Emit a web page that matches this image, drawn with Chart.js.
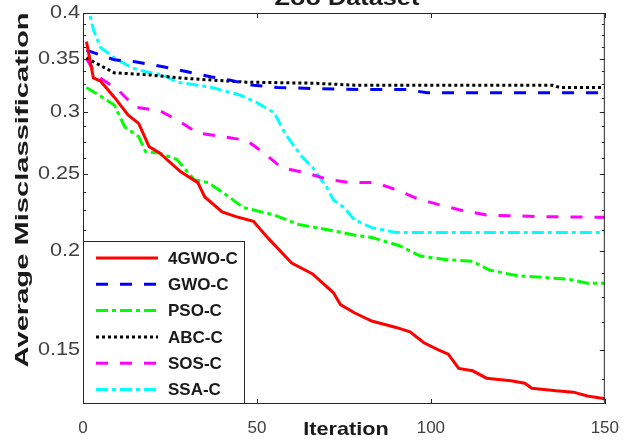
<!DOCTYPE html>
<html>
<head>
<meta charset="utf-8">
<script src="https://cdn.jsdelivr.net/npm/chart.js@4.4.0/dist/chart.umd.min.js"></script>
<style>
  html, body { margin: 0; padding: 0; background: #fff; }
  canvas { display: block; }
</style>
</head>
<body>
<canvas id="chart" width="633" height="441"></canvas>
<script>
// values (iteration, average misclassification)
const seriesNames = ['4GWO-C', 'GWO-C', 'PSO-C', 'ABC-C', 'SOS-C', 'SSA-C'];

const gwo4Iters = [1, 3, 5, 9, 13, 16, 19, 22, 28, 33, 35, 40, 44, 49, 53, 60, 66, 72, 74, 78, 83, 90, 94, 98, 102, 105, 108, 112, 116, 123, 127, 129, 136, 141, 145, 150];
const gwo4Vals  = [0.368, 0.331, 0.328, 0.313, 0.297, 0.290, 0.271, 0.266, 0.252, 0.244, 0.234, 0.224, 0.221, 0.218, 0.208, 0.193, 0.187, 0.177, 0.171, 0.167, 0.163, 0.160, 0.158, 0.153, 0.150, 0.148, 0.142, 0.141, 0.138, 0.137, 0.136, 0.134, 0.133, 0.1325, 0.131, 0.130];

const gwoIters = [1, 9, 15, 23, 30, 37, 42, 49, 56, 66, 79, 93, 99, 150];
const gwoVals  = [0.359, 0.349, 0.347, 0.342, 0.337, 0.332, 0.329, 0.324, 0.322, 0.321, 0.320, 0.320, 0.317, 0.317];

const psoIters = [1, 4, 9, 12, 16, 18, 22, 27, 32, 36, 42, 46, 55, 62, 72, 79, 83, 91, 97, 104, 112, 117, 125, 133, 140, 145, 150];
const psoVals  = [0.322, 0.316, 0.306, 0.287, 0.279, 0.267, 0.266, 0.261, 0.246, 0.244, 0.234, 0.227, 0.222, 0.216, 0.212, 0.209, 0.208, 0.203, 0.197, 0.195, 0.194, 0.189, 0.186, 0.185, 0.184, 0.182, 0.182];

const abcIters = [1, 3, 9, 19, 28, 37, 47, 66, 79, 135, 137, 150];
const abcVals  = [0.351, 0.347, 0.336, 0.334, 0.331, 0.329, 0.327, 0.326, 0.324, 0.324, 0.322, 0.322];

const sosIters = [1, 4, 10, 15, 22, 27, 33, 40, 47, 52, 57, 64, 71, 77, 84, 90, 96, 102, 109, 116, 131, 150];
const sosVals  = [0.350, 0.333, 0.320, 0.304, 0.301, 0.293, 0.282, 0.279, 0.276, 0.266, 0.255, 0.251, 0.246, 0.244, 0.244, 0.239, 0.233, 0.229, 0.225, 0.222, 0.221, 0.2205];

const ssaIters = [1, 3, 5, 9, 14, 18, 23, 27, 33, 37, 45, 50, 55, 58, 60, 63, 66, 70, 72, 75, 78, 83, 90, 150];
const ssaVals  = [0.415, 0.381, 0.362, 0.351, 0.341, 0.337, 0.334, 0.327, 0.324, 0.322, 0.315, 0.308, 0.299, 0.282, 0.274, 0.263, 0.255, 0.241, 0.232, 0.227, 0.219, 0.214, 0.211, 0.211];

const xTickLabels = [0, 50, 100, 150];
const yTickLabels = [0.15, 0.2, 0.25, 0.3, 0.35, 0.4];

const FONT = '"Liberation Sans", Arial, sans-serif';
const AXIS_COLOR = '#262626';

function points(iters, vals) {
    return iters.map((it, i) => ({ x: it, y: vals[i] }));
}

const styles = [
    { color: '#ff0000', dash: [] },
    { color: '#0000ff', dash: [12, 12] },
    { color: '#00ff00', dash: [12, 4, 4, 4] },
    { color: '#000000', dash: [3, 3] },
    { color: '#ff00ff', dash: [12, 12] },
    { color: '#00ffff', dash: [12, 4, 4, 4] }
];

const allData = [
    points(gwo4Iters, gwo4Vals),
    points(gwoIters, gwoVals),
    points(psoIters, psoVals),
    points(abcIters, abcVals),
    points(sosIters, sosVals),
    points(ssaIters, ssaVals)
];

const datasets = seriesNames.map((name, i) => ({
    label: name,
    data: allData[i],
    borderColor: styles[i].color,
    backgroundColor: styles[i].color,
    borderDash: styles[i].dash,
    borderWidth: 3,
    pointRadius: 0,
    tension: 0,
    fill: false
}));

// box, inward ticks, tick labels, legend and titles in the MATLAB look
const framePlugin = {
    id: 'frame',
    afterDatasetsDraw(chart) {
        const ctx = chart.ctx;
        const a = chart.chartArea;
        const xs = chart.scales.x;
        const ys = chart.scales.y;
        ctx.save();

        // box
        ctx.strokeStyle = AXIS_COLOR;
        ctx.lineWidth = 1;
        ctx.setLineDash([]);
        ctx.strokeRect(a.left + 0.5, a.top + 0.5, a.right - a.left - 1, a.bottom - a.top - 1);

        // x ticks
        ctx.beginPath();
        xTickLabels.forEach(v => {
            const px = Math.round(xs.getPixelForValue(v)) + 0.5;
            ctx.moveTo(px, a.bottom); ctx.lineTo(px, a.bottom - 5);
            ctx.moveTo(px, a.top); ctx.lineTo(px, a.top + 5);
        });
        // y ticks, minor every 0.0125
        for (let k = 0; k <= 40; k++) {
            const v = 0.125 + k * 0.0125;
            if (v < ys.min || v > ys.max + 1e-9) continue;
            const major = yTickLabels.some(t => Math.abs(t - v) < 1e-6);
            const len = major ? 5 : 3;
            const py = Math.round(ys.getPixelForValue(v)) + 0.5;
            ctx.moveTo(a.left, py); ctx.lineTo(a.left + len, py);
            ctx.moveTo(a.right, py); ctx.lineTo(a.right - len, py);
        }
        ctx.stroke();

        // y tick labels (a little wide, as in the reference)
        ctx.fillStyle = '#404040';
        ctx.font = '18px ' + FONT;
        ctx.textAlign = 'right';
        ctx.textBaseline = 'middle';
        yTickLabels.forEach(v => {
            ctx.save();
            ctx.translate(a.left - 3, ys.getPixelForValue(v));
            ctx.scale(1.2, 1);
            ctx.fillText(String(v), 0, 0);
            ctx.restore();
        });

        // legend
        const lx = a.left, ly = 241, lw = 161, lh = a.bottom - 241;
        ctx.fillStyle = '#fff';
        ctx.fillRect(lx, ly, lw, lh);
        ctx.strokeStyle = AXIS_COLOR;
        ctx.strokeRect(lx + 0.5, ly + 0.5, lw, lh - 1);
        ctx.font = 'bold 17px ' + FONT;
        ctx.textBaseline = 'middle';
        ctx.textAlign = 'left';
        chart.data.datasets.forEach((ds, i) => {
            const ry = 258 + i * 26.3;
            ctx.strokeStyle = ds.borderColor;
            ctx.lineWidth = 3;
            ctx.setLineDash(ds.borderDash);
            ctx.beginPath();
            ctx.moveTo(lx + 13, ry);
            ctx.lineTo(lx + 75, ry);
            ctx.stroke();
            ctx.fillStyle = '#1a1a1a';
            ctx.fillText(ds.label, lx + 85, ry + 1);
        });
        ctx.setLineDash([]);

        // title, clipped at the top edge
        ctx.fillStyle = '#1a1a1a';
        ctx.textAlign = 'center';
        ctx.textBaseline = 'alphabetic';
        ctx.font = 'bold 22px ' + FONT;
        ctx.save();
        ctx.translate((a.left + a.right) / 2 + 3, 5);
        ctx.scale(1.15, 1);
        ctx.fillText('Zoo Dataset', 0, 0);
        ctx.restore();

        // x title
        ctx.font = 'bold 19px ' + FONT;
        ctx.textBaseline = 'middle';
        ctx.save();
        ctx.translate(346, 430);
        ctx.scale(1.14, 1);
        ctx.fillText('Iteration', 0, 0);
        ctx.restore();

        // y title
        const yTitle = 'Average Misclassification';
        ctx.save();
        ctx.translate(23, 190);
        ctx.rotate(-Math.PI / 2);
        const w = ctx.measureText(yTitle).width;
        ctx.scale(355 / w, 1);
        ctx.fillText(yTitle, 0, 0);
        ctx.restore();

        ctx.restore();
    }
};

new Chart(document.getElementById('chart').getContext('2d'), {
    type: 'line',
    data: { datasets: datasets },
    options: {
        responsive: false,
        animation: false,
        layout: { padding: { top: 13, right: 27, left: 0, bottom: 0 } },
        plugins: {
            legend: { display: false },
            title: { display: false },
            tooltip: { enabled: false }
        },
        scales: {
            x: {
                type: 'linear',
                min: 0,
                max: 150,
                afterBuildTicks: scale => { scale.ticks = xTickLabels.map(v => ({ value: v })); },
                afterFit: scale => { scale.height = 37; },
                grid: { display: false, drawTicks: false },
                border: { display: false },
                ticks: {
                    padding: 14,
                    maxRotation: 0,
                    color: '#404040',
                    font: { family: FONT, size: 17 }
                }
            },
            y: {
                type: 'logarithmic',
                min: 0.128,
                max: 0.4,
                afterBuildTicks: scale => { scale.ticks = yTickLabels.map(v => ({ value: v })); },
                afterFit: scale => { scale.width = 83; },
                grid: { display: false, drawTicks: false },
                border: { display: false },
                ticks: { display: false }
            }
        }
    },
    plugins: [framePlugin]
});
</script>
</body>
</html>
